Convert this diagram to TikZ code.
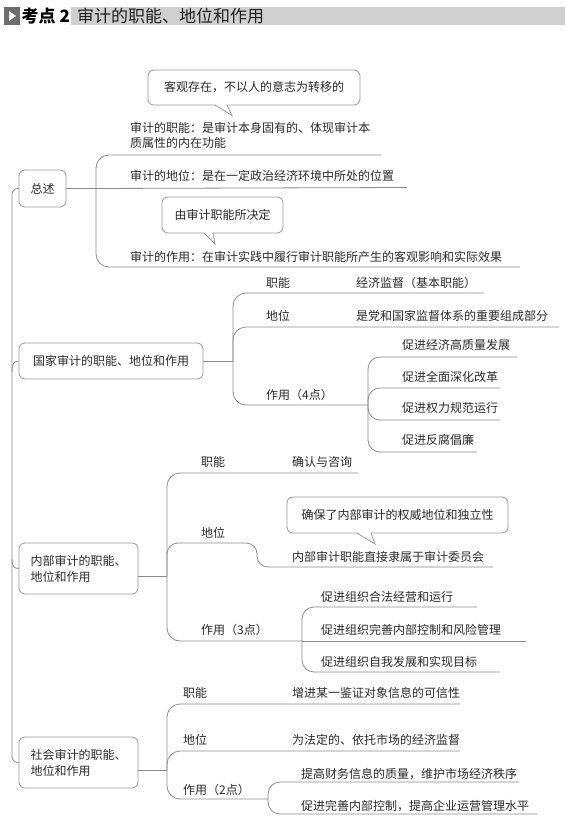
\documentclass[tikz,border=0pt]{standalone}
\usepackage{fontspec}
\setmainfont{Noto Sans CJK SC}
\newfontfamily\cjk{Noto Sans CJK SC}
\usetikzlibrary{calc}
\definecolor{linegray}{HTML}{8C8C8C}
\definecolor{boxgray}{HTML}{9A9A9A}
\definecolor{txtgray}{HTML}{2A2A2A}
\definecolor{barcol}{HTML}{D0D0D0}
\definecolor{icongray}{HTML}{6E6E6E}
\begin{document}
\begin{tikzpicture}[x=1pt,y=-1pt,
  txt/.style={anchor=west, inner sep=0pt, text height=10.5pt, text depth=1.5pt,
    font=\cjk\fontsize{12}{15}\selectfont, text=txtgray},
  topicbox/.style={draw=boxgray, line width=0.8pt, rounded corners=6pt, inner sep=0pt,
    align=left, font=\cjk\fontsize{12}{16}\selectfont, text=txtgray},
  callout/.style={draw=boxgray, line width=0.8pt, rounded corners=6pt, fill=white, inner sep=0pt,
    font=\cjk\fontsize{12}{15}\selectfont, text=txtgray},
  link/.style={draw=linegray, line width=0.8pt, rounded corners=13pt},
  tail/.style={draw=boxgray, line width=0.8pt, line join=miter},
]
\useasboundingbox (0,0) rectangle (575,829);

% ---------- header ----------
\fill[icongray] (4,7) rectangle (20,25);
\fill[white] (9,11) -- (16,16) -- (9,21) -- cycle;
\node[anchor=west, inner sep=0pt, font=\cjk\bfseries\fontsize{17}{20}\selectfont, text=black] (kd) at (21.5,16) {考点 2};
\fill[barcol] (71,7) rectangle (565,25);
\node[anchor=west, inner sep=0pt, font=\cjk\fontsize{17}{20}\selectfont, text=black!88] (title) at (77,16) {审计的职能、地位和作用};

% ---------- 总述 ----------
\node[topicbox, minimum width=47, minimum height=37, align=center] (zs) at (42.5,188.5) {总述};
\coordinate (zsJ) at (96,188.5);
\node[txt] (zs1a) at (130,128) {审计的职能：是审计本身固有的、体现审计本};
\node[txt] (zs1b) at (130,143) {质属性的内在功能};
\node[txt] (zs2) at (130,176) {审计的地位：是在一定政治经济环境中所处的位置};
\node[txt] (zs3) at (130,257) {审计的作用：在审计实践中履行审计职能所产生的客观影响和实际效果};
\coordinate (zs1e) at (381,155);
\coordinate (zs2e) at (407,187.5);
\coordinate (zs3e) at (520,267);
\draw[link] (zs.east) -- (zsJ) -- (zs2e);
\draw[link] (zsJ) -- (zsJ |- zs1e) -- (zs1e);
\draw[link] (zsJ) -- (zsJ |- zs3e) -- (zs3e);

% callout 1
\node[callout, minimum width=212, minimum height=35] (c1) at (254,87.5) {客观存在，不以人的意志为转移的};
\coordinate (c1a) at (215,105);
\coordinate (c1b) at (227,105);
\coordinate (c1t) at (232,115.5);
\fill[white] ($(c1a)+(0.4,-1.2)$) -- ($(c1b)+(-0.4,-1.2)$) -- ($(c1b)+(-0.4,0.6)$) -- (c1t) -- ($(c1a)+(0.4,0.6)$) -- cycle;
\draw[tail] (c1a) -- (c1t) -- (c1b);

% callout 2
\node[callout, minimum width=121, minimum height=36] (c2) at (222.5,215) {由审计职能所决定};
\coordinate (c2a) at (204,233);
\coordinate (c2b) at (213,233);
\coordinate (c2t) at (215,244);
\fill[white] ($(c2a)+(0.4,-1.2)$) -- ($(c2b)+(-0.4,-1.2)$) -- ($(c2b)+(-0.4,0.6)$) -- (c2t) -- ($(c2a)+(0.4,0.6)$) -- cycle;
\draw[tail] (c2a) -- (c2t) -- (c2b);

% ---------- 国家审计 ----------
\node[topicbox, minimum width=184, minimum height=36, align=center] (gj) at (111,361) {国家审计的职能、地位和作用};
\coordinate (gjJ) at (233,361);
\node[txt] (gj1) at (266,283) {职能};
\node[txt] (gj1v) at (356,283) {经济监督（基本职能）};
\node[txt] (gj2) at (266,316) {地位};
\node[txt] (gj2v) at (356,316) {是党和国家监督体系的重要组成部分};
\node[txt] (gj3) at (266,395) {作用（4点）};
\coordinate (gj1e) at (484,293);
\coordinate (gj2e) at (559,327);
\coordinate (gjK) at (368,405);
\draw[link] (gj.east) -- (gjJ);
\draw[link] (gjJ) -- (gjJ |- gj1e) -- (gj1e);
\draw[link] (gjJ) -- (gjJ |- gj2e) -- (gj2e);
\draw[link] (gjJ) -- (gjJ |- gjK) -- (gjK);
\node[txt] (gj3a) at (402,345) {促进经济高质量发展};
\node[txt] (gj3b) at (402,377) {促进全面深化改革};
\node[txt] (gj3c) at (402,408) {促进权力规范运行};
\node[txt] (gj3d) at (402,440) {促进反腐倡廉};
\coordinate (gj3ae) at (517,357);
\coordinate (gj3be) at (500,388);
\coordinate (gj3ce) at (500,420);
\coordinate (gj3de) at (477,452);
\draw[link, rounded corners=12pt] (gjK) -- (gjK |- gj3ae) -- (gj3ae);
\draw[link, rounded corners=12pt] (gjK) -- (gjK |- gj3be) -- (gj3be);
\draw[link, rounded corners=12pt] (gjK) -- (gjK |- gj3ce) -- (gj3ce);
\draw[link, rounded corners=12pt] (gjK) -- (gjK |- gj3de) -- (gj3de);

% ---------- 内部审计 ----------
\node[topicbox, minimum width=119, minimum height=51] (nb) at (78.5,568.5) {内部审计的职能、\\地位和作用};
\coordinate (nbJ) at (167,576);
\node[txt] (nb1) at (201,462) {职能};
\node[txt] (nb1v) at (292,462) {确认与咨询};
\node[txt] (nb2) at (201,533) {地位};
\node[txt] (nb2v) at (292,557) {内部审计职能直接隶属于审计委员会};
\node[txt] (nb3) at (201,630) {作用（3点）};
\coordinate (nb1e) at (358,473);
\coordinate (nb2s) at (257,543);
\coordinate (nb2e) at (493,567);
\coordinate (nbK) at (302,641);
\draw[link] (nb.east |- nbJ) -- (nbJ);
\draw[link] (nbJ) -- (nbJ |- nb1e) -- (nb1e);
\draw[link, rounded corners=11pt] (nbJ) -- (nbJ |- nb2s) -- (nb2s) -- (nb2s |- nb2e) -- (nb2e);
\draw[link] (nbJ) -- (nbJ |- nbK) -- (nbK);
\node[txt] (nb3a) at (321,597) {促进组织合法经营和运行};
\node[txt] (nb3b) at (321,630) {促进组织完善内部控制和风险管理};
\node[txt] (nb3c) at (321,662) {促进组织自我发展和实现目标};
\coordinate (nb3ae) at (477,607);
\coordinate (nb3be) at (526,641);
\coordinate (nb3ce) at (500,672);
\draw[link, rounded corners=12pt] (nbK) -- (nbK |- nb3ae) -- (nb3ae);
\draw[link] (nbK) -- (nb3be);
\draw[link, rounded corners=12pt] (nbK) -- (nbK |- nb3ce) -- (nb3ce);

% callout 3
\node[callout, minimum width=221, minimum height=36] (c3) at (397.5,515) {确保了内部审计的权威地位和独立性};
\coordinate (c3a) at (357,533);
\coordinate (c3b) at (371,533);
\coordinate (c3t) at (375,544);
\fill[white] ($(c3a)+(0.4,-1.2)$) -- ($(c3b)+(-0.4,-1.2)$) -- ($(c3b)+(-0.4,0.6)$) -- (c3t) -- ($(c3a)+(0.4,0.6)$) -- cycle;
\draw[tail] (c3a) -- (c3t) -- (c3b);

% ---------- 社会审计 ----------
\node[topicbox, minimum width=119, minimum height=51] (sh) at (78.5,762.5) {社会审计的职能、\\地位和作用};
\coordinate (shJ) at (167,770);
\node[txt] (sh1) at (183,693) {职能};
\node[txt] (sh1v) at (292,693) {增进某一鉴证对象信息的可信性};
\node[txt] (sh2) at (183,740) {地位};
\node[txt] (sh2v) at (292,740) {为法定的、依托市场的经济监督};
\node[txt] (sh3) at (183,790) {作用（2点）};
\coordinate (sh1e) at (460,704);
\coordinate (sh2e) at (460,751);
\coordinate (shK) at (268,799);
\draw[link] (sh.east |- shJ) -- (shJ);
\draw[link] (shJ) -- (shJ |- sh1e) -- (sh1e);
\draw[link] (shJ) -- (shJ |- sh2e) -- (sh2e);
\draw[link] (shJ) -- (shJ |- shK) -- (shK);
\node[txt] (sh3a) at (301,774) {提高财务信息的质量，维护市场经济秩序};
\node[txt] (sh3b) at (301,806) {促进完善内部控制，提高企业运营管理水平};
\coordinate (sh3ae) at (519,782);
\coordinate (sh3be) at (537,814);
\draw[link, rounded corners=12pt] (shK) -- (shK |- sh3ae) -- (sh3ae);
\draw[link, rounded corners=12pt] (shK) -- (shK |- sh3be) -- (sh3be);

% ---------- main spine ----------
\coordinate (spX) at (12,470);
\draw[link, rounded corners=6pt] (zs.west) -- (spX |- zs.west) -- (spX |- sh.west) -- (sh.west);
\draw[link, rounded corners=0pt] (12,372) .. controls (12,364) and (14,361) .. (gj.west);
\draw[link, rounded corners=0pt] (12,559) .. controls (12,566) and (14,568.5) .. (nb.west);
\end{tikzpicture}
\end{document}
